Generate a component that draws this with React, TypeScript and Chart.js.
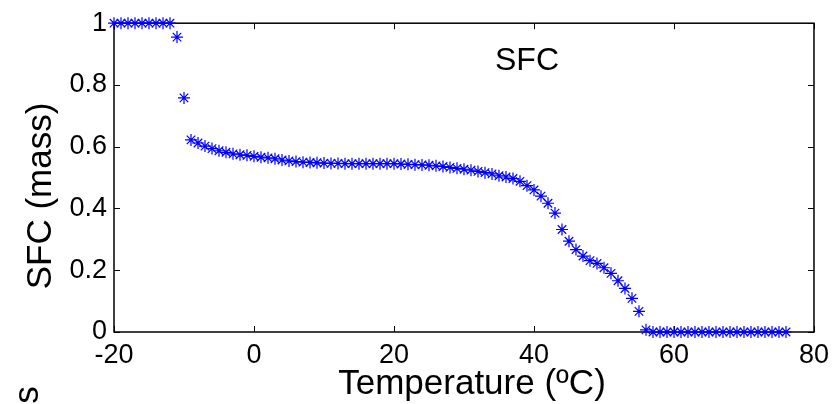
import React, { useEffect, useRef } from "react";
import { Chart, registerables } from "chart.js";

Chart.register(...registerables);

const temperatures: number[] = [
  -20, -19, -18, -17, -16, -15, -14, -13, -12, -11, -10, -9, -8, -7, -6, -5, -4, -3, -2, -1,
  0, 1, 2, 3, 4, 5, 6, 7, 8, 9, 10, 11, 12, 13, 14, 15, 16, 17, 18, 19,
  20, 21, 22, 23, 24, 25, 26, 27, 28, 29, 30, 31, 32, 33, 34, 35, 36, 37, 38, 39,
  40, 41, 42, 43, 44, 45, 46, 47, 48, 49, 50, 51, 52, 53, 54, 55, 56, 57, 58, 59,
  60, 61, 62, 63, 64, 65, 66, 67, 68, 69, 70, 71, 72, 73, 74, 75, 76,
];

const sfcValues: number[] = [
  1, 1, 1, 1, 1, 1, 1, 1, 1, 0.955, 0.758, 0.622, 0.612, 0.602, 0.594, 0.587, 0.582, 0.577, 0.574, 0.572,
  0.569, 0.566, 0.564, 0.561, 0.557, 0.554, 0.552, 0.55, 0.549, 0.548, 0.547, 0.546, 0.546, 0.545, 0.545, 0.545, 0.545, 0.545, 0.545, 0.545,
  0.545, 0.544, 0.543, 0.542, 0.541, 0.54, 0.538, 0.536, 0.533, 0.53, 0.527, 0.524, 0.52, 0.516, 0.512, 0.506, 0.502, 0.497, 0.488, 0.474,
  0.46, 0.44, 0.417, 0.385, 0.332, 0.294, 0.267, 0.246, 0.231, 0.222, 0.208, 0.19, 0.166, 0.141, 0.109, 0.067, 0.007, 0, 0, 0,
  0, 0, 0, 0, 0, 0, 0, 0, 0, 0, 0, 0, 0, 0, 0, 0, 0,
];

const xTicks: number[] = [-20, 0, 20, 40, 60, 80];
const yTicks: number[] = [0, 0.2, 0.4, 0.6, 0.8, 1];

const xTitle = "Temperature (ºC)";
const yTitle = "SFC (mass)";
const annotationText = "SFC";
const strayText = "s";

const FONT = "'Liberation Sans', Arial, Helvetica, sans-serif";

const framePlugin = {
  id: "matlabFrame",
  beforeDatasetsDraw(chart: any) {
    const { ctx, chartArea } = chart;
    const { left, right, top, bottom } = chartArea;
    const xs = chart.scales.x;
    const ys = chart.scales.y;
    ctx.save();
    ctx.strokeStyle = "#000";
    ctx.lineWidth = 1;
    const tl = 6;
    ctx.beginPath();
    xTicks.forEach((v) => {
      const px = Math.round(xs.getPixelForValue(v)) + 0.5;
      ctx.moveTo(px, bottom);
      ctx.lineTo(px, bottom - tl);
      ctx.moveTo(px, top);
      ctx.lineTo(px, top + tl);
    });
    yTicks.forEach((v) => {
      const py = Math.round(ys.getPixelForValue(v)) + 0.5;
      ctx.moveTo(left, py);
      ctx.lineTo(left + tl, py);
      ctx.moveTo(right, py);
      ctx.lineTo(right - tl, py);
    });
    ctx.stroke();
    ctx.lineWidth = 1.5;
    ctx.strokeRect(left, top, right - left, bottom - top);
    ctx.restore();
  },
  afterDraw(chart: any) {
    const { ctx } = chart;
    ctx.save();
    ctx.fillStyle = "#000";
    ctx.textAlign = "center";
    ctx.textBaseline = "middle";
    ctx.font = `35px ${FONT}`;
    ctx.fillText(xTitle, 472, 384);
    ctx.save();
    ctx.translate(41, 196);
    ctx.rotate(-Math.PI / 2);
    ctx.fillText(yTitle, 0, 0);
    ctx.restore();
    ctx.save();
    ctx.translate(28, 395);
    ctx.rotate(-Math.PI / 2);
    ctx.fillText(strayText, 0, 0);
    ctx.restore();
    ctx.font = `32px ${FONT}`;
    ctx.fillText(annotationText, 527, 61);
    ctx.restore();
  },
};

export default function App() {
  const ref = useRef<HTMLCanvasElement | null>(null);
  useEffect(() => {
    if (!ref.current) return;
    const chart = new Chart(ref.current, {
      type: "scatter",
      data: {
        datasets: [
          {
            label: "SFC",
            data: temperatures.map((t, i) => ({ x: t, y: sfcValues[i] })),
            pointStyle: "star",
            pointRadius: 6,
            pointBorderWidth: 1.2,
            borderColor: "#0000ff",
            backgroundColor: "#0000ff",
            showLine: false,
            clip: false,
          } as any,
        ],
      },
      options: {
        responsive: false,
        animation: false,
        events: [],
        layout: { padding: { top: 22, right: 19, left: 0, bottom: 0 } },
        plugins: { legend: { display: false }, tooltip: { enabled: false }, title: { display: false } },
        scales: {
          x: {
            type: "linear",
            min: -20,
            max: 80,
            afterBuildTicks: (s: any) => {
              s.ticks = xTicks.map((v) => ({ value: v }));
            },
            afterFit: (s: any) => {
              s.height = 72;
            },
            grid: { display: false, drawTicks: false },
            border: { display: false },
            ticks: {
              color: "#000",
              font: { family: FONT, size: 27 },
              padding: 7,
              maxRotation: 0,
              autoSkip: false,
            },
          },
          y: {
            type: "linear",
            min: 0,
            max: 1,
            afterBuildTicks: (s: any) => {
              s.ticks = yTicks.map((v) => ({ value: v }));
            },
            afterFit: (s: any) => {
              s.width = 114;
            },
            grid: { display: false, drawTicks: false },
            border: { display: false },
            ticks: {
              color: "#000",
              font: { family: FONT, size: 27 },
              padding: 7,
              autoSkip: false,
              callback: (v: any) => String(Number(v)),
            },
          },
        },
      },
      plugins: [framePlugin],
    });
    return () => chart.destroy();
  }, []);
  return (
    <div style={{ position: "fixed", left: 0, top: 0, width: 836, height: 404, background: "#fff" }}>
      <canvas ref={ref} width={836} height={404} style={{ display: "block" }} />
    </div>
  );
}
